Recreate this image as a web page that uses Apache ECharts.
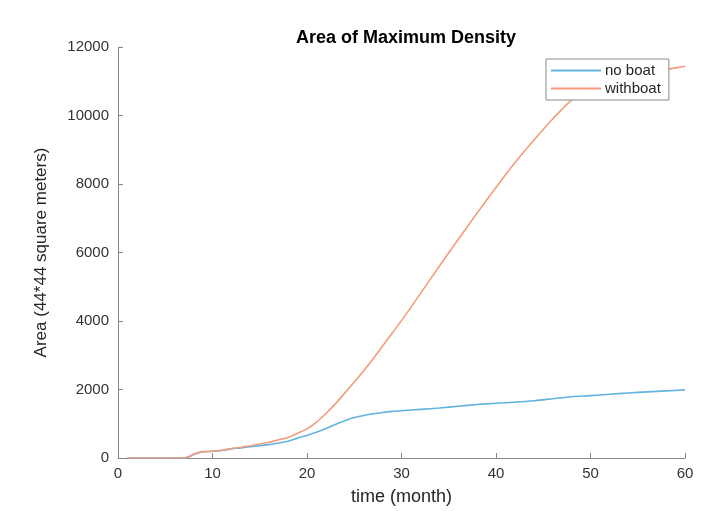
<!DOCTYPE html>
<html>
<head>
<meta charset="utf-8">
<script src="https://cdn.jsdelivr.net/npm/echarts@6/dist/echarts.min.js"></script>
<style>html,body{margin:0;padding:0;background:#fff;}#c{width:718px;height:511px;}</style>
</head>
<body>
<div id="c"></div>
<script>
const months = [1,2,3,4,5,6,7,7.5,8,9,10,11,12,13,14,15,16,17,18,19,20,21,22,23,24,25,26,27,28,29,30,32,34,36,38,40,42,44,46,48,50,52,54,56,58,60];
const noBoat = [0,0,0,0,0,0,0,30,100,180,195,220,265,295,330,360,390,440,490,580,660,750,860,980,1090,1180,1240,1290,1330,1360,1380,1420,1460,1510,1560,1600,1630,1670,1730,1790,1820,1860,1900,1930,1960,1990];
const withBoat = [0,0,0,0,0,0,0,40,110,185,195,225,275,315,360,410,460,530,600,720,850,1050,1300,1580,1900,2220,2550,2900,3270,3640,4010,4800,5600,6380,7150,7900,8620,9280,9900,10450,10800,11000,11150,11250,11340,11440];
const xTicks = [0,10,20,30,40,50,60];
const yTicks = [0,2000,4000,6000,8000,10000,12000];

const pair = (xs, ys) => xs.map((x, i) => [x, ys[i]]);
const font = 'Liberation Sans, Arial, sans-serif';
const axisGrey = '#858585';
const chart = echarts.init(document.getElementById('c'), null, {renderer: 'canvas'});
chart.setOption({
  animation: false,
  backgroundColor: '#fff',
  title: {
    text: 'Area of Maximum Density',
    left: 401, top: 24, textAlign: 'center',
    textStyle: {fontFamily: font, fontSize: 18, fontWeight: 'bold', color: '#000'}
  },
  legend: {
    orient: 'vertical',
    left: 546, top: 59,
    padding: [4, 8, 4, 5],
    itemGap: 3,
    itemWidth: 50, itemHeight: 2,
    icon: 'rect',
    backgroundColor: '#fff',
    borderColor: '#8a8a8a', borderWidth: 1,
    textStyle: {fontFamily: font, fontSize: 15, color: '#262626', padding: [0, 0, 0, -1]},
    data: [{name: 'no boat', itemStyle: {color: '#62b3df'}}, {name: 'withboat', itemStyle: {color: '#f29c7c'}}]
  },
  grid: {left: 118, right: 33, top: 47, bottom: 53, containLabel: false},
  xAxis: {
    type: 'value', min: 0, max: 60, interval: 10,
    name: 'time (month)', nameLocation: 'middle', nameGap: 30,
    nameTextStyle: {fontFamily: font, fontSize: 18, color: '#262626'},
    axisLine: {show: true, lineStyle: {color: axisGrey, width: 1}},
    axisTick: {show: true, inside: true, length: 5, lineStyle: {color: axisGrey}},
    axisLabel: {fontFamily: font, fontSize: 15, color: '#333', margin: 8, customValues: xTicks},
    splitLine: {show: false}
  },
  yAxis: {
    type: 'value', min: 0, max: 12000, interval: 2000,
    name: 'Area (44*44 square meters)', nameLocation: 'middle', nameGap: 68,
    nameTextStyle: {fontFamily: font, fontSize: 17, color: '#262626'},
    axisLine: {show: true, lineStyle: {color: axisGrey, width: 1}},
    axisTick: {show: true, inside: true, length: 5, lineStyle: {color: axisGrey}},
    axisLabel: {fontFamily: font, fontSize: 15, color: '#333', margin: 9, customValues: yTicks,
                formatter: v => String(v)},
    splitLine: {show: false}
  },
  series: [
    {name: 'no boat', type: 'line', data: pair(months, noBoat), showSymbol: false, smooth: 0.3,
     lineStyle: {color: '#62b3df', width: 1.6}, itemStyle: {color: '#62b3df'}, z: 2},
    {name: 'withboat', type: 'line', data: pair(months, withBoat), showSymbol: false, smooth: 0.3,
     lineStyle: {color: '#f29c7c', width: 1.6}, itemStyle: {color: '#f29c7c'}, z: 3}
  ]
});
</script>
</body>
</html>
